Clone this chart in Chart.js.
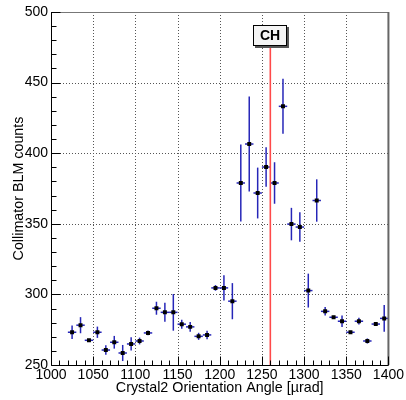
<!DOCTYPE html>
<html>
<head>
<meta charset="utf-8">
<script src="https://cdn.jsdelivr.net/npm/chart.js@4.4.0/dist/chart.umd.min.js"></script>
<style>
  html, body { margin: 0; padding: 0; background: #fff; }
  #wrap { width: 406px; height: 400px; }
</style>
</head>
<body>
<div id="wrap"><canvas id="c" width="406" height="400"></canvas></div>
<script>
// crystal2 angle scan
const angles = [1025, 1035, 1045, 1055, 1065, 1075, 1085, 1095, 1105, 1115,
                1125, 1135, 1145, 1155, 1165, 1175, 1185, 1195, 1205, 1215,
                1225, 1235, 1245, 1255, 1265, 1275, 1285, 1295, 1305, 1315,
                1325, 1335, 1345, 1355, 1365, 1375, 1385, 1395];
const counts = [273.2, 278.2, 267.5, 273.2, 260.6, 266.1, 258.5, 264.9, 267.0, 272.7,
                290.2, 287.3, 287.3, 278.9, 277.0, 270.3, 271.3, 304.6, 304.6, 295.2,
                378.9, 406.5, 371.8, 390.2, 378.9, 433.2, 349.8, 347.7, 302.7, 366.5,
                288.0, 283.8, 281.0, 273.2, 281.0, 267.0, 279.0, 283.0];
const countErr = [4.7, 5.7, 1.0, 4.0, 3.4, 4.5, 5.7, 4.7, 2.4, 1.7,
                  4.6, 6.7, 13.0, 3.2, 3.5, 2.5, 3.0, 2.0, 9.0, 12.8,
                  27.3, 33.7, 18.0, 14.0, 14.7, 19.5, 11.5, 10.5, 12.0, 15.0,
                  3.0, 1.0, 4.0, 1.0, 2.4, 1.8, 1.0, 9.5];
const angleErr = 5;

const xTickValues = [1000, 1050, 1100, 1150, 1200, 1250, 1300, 1350, 1400];
const yTickValues = [250, 300, 350, 400, 450, 500];
const chAngle = 1260;
const chText = 'CH';

const FONT = '"Liberation Sans", Arial, Helvetica, sans-serif';

function seg(ctx, x1, y1, x2, y2) {
  ctx.beginPath(); ctx.moveTo(x1, y1); ctx.lineTo(x2, y2); ctx.stroke();
}

const rootFrame = {
  id: 'rootFrame',
  beforeDatasetsDraw(chart) {
    const { ctx, chartArea: a, scales: { x, y } } = chart;
    ctx.save();
    // dotted grid
    ctx.strokeStyle = '#555'; ctx.lineWidth = 1; ctx.setLineDash([1, 2]);
    xTickValues.slice(1, -1).forEach(v => {
      const px = Math.round(x.getPixelForValue(v)) + 0.5;
      seg(ctx, px, a.top, px, a.bottom);
    });
    yTickValues.slice(1, -1).forEach(v => {
      const py = Math.round(y.getPixelForValue(v)) + 0.5;
      seg(ctx, a.left, py, a.right, py);
    });
    ctx.setLineDash([]);
    // error bars
    ctx.strokeStyle = '#2626b8'; ctx.lineWidth = 1.5;
    angles.forEach((v, i) => {
      const px = x.getPixelForValue(v), py = y.getPixelForValue(counts[i]);
      seg(ctx, x.getPixelForValue(v - angleErr), py, x.getPixelForValue(v + angleErr), py);
      seg(ctx, px, y.getPixelForValue(counts[i] - countErr[i]), px, y.getPixelForValue(counts[i] + countErr[i]));
    });
    ctx.restore();
  },
  afterDatasetsDraw(chart) {
    const { ctx, chartArea: a, scales: { x, y } } = chart;
    ctx.save();
    // channeling marker
    const lx = x.getPixelForValue(chAngle);
    const bx = Math.round(lx) - 17, by = 25, bw = 33, bh = 20;
    ctx.strokeStyle = '#ff4a4a'; ctx.lineWidth = 1.6;
    seg(ctx, lx, by + bh + 2, lx, a.bottom);
    ctx.fillStyle = '#555';
    ctx.fillRect(bx + 2, by + 2, bw + 1, bh + 1);
    ctx.fillStyle = '#f4f4f4';
    ctx.fillRect(bx, by, bw, bh);
    ctx.strokeStyle = '#000'; ctx.lineWidth = 1;
    ctx.strokeRect(bx + 0.5, by + 0.5, bw, bh);
    ctx.fillStyle = '#000';
    ctx.font = 'bold 14px ' + FONT;
    ctx.textAlign = 'center'; ctx.textBaseline = 'middle';
    ctx.fillText(chText, bx + bw / 2 + 0.5, by + bh / 2 + 1.5);

    // frame: grey top/right, black axes with inward ticks
    ctx.strokeStyle = '#777'; ctx.lineWidth = 1;
    seg(ctx, a.left, a.top + 0.5, a.right, a.top + 0.5);
    ctx.strokeStyle = '#666'; ctx.lineWidth = 2;
    seg(ctx, a.right, a.top, a.right, a.bottom);
    ctx.strokeStyle = '#000'; ctx.lineWidth = 1;
    const L = Math.round(a.left) + 0.5, B = Math.round(a.bottom) + 0.5;
    seg(ctx, L, a.top, L, B);
    seg(ctx, L, B, a.right, B);
    for (let v = xTickValues[0]; v <= xTickValues[xTickValues.length - 1]; v += 10) {
      const px = Math.round(x.getPixelForValue(v)) + 0.5;
      const len = (v % 50 === 0) ? 9 : 5;
      seg(ctx, px, B, px, B - len);
    }
    for (let v = yTickValues[0]; v <= yTickValues[yTickValues.length - 1]; v += 10) {
      const py = Math.round(y.getPixelForValue(v)) + 0.5;
      const len = (v % 50 === 0) ? 9 : 5;
      seg(ctx, L, py, L + len, py);
    }
    ctx.restore();
  }
};

new Chart(document.getElementById('c'), {
  type: 'scatter',
  data: {
    datasets: [{
      data: angles.map((v, i) => ({ x: v, y: counts[i] })),
      pointStyle: 'rect',
      pointRadius: 2.8,
      backgroundColor: '#000',
      borderWidth: 0,
      showLine: false
    }]
  },
  options: {
    responsive: false,
    animation: false,
    events: [],
    layout: { padding: { top: 12, right: 15, left: 0, bottom: 0 } },
    plugins: { legend: { display: false }, tooltip: { enabled: false } },
    scales: {
      x: {
        type: 'linear', min: 1000, max: 1400,
        grid: { display: false, drawTicks: false },
        border: { display: false },
        afterBuildTicks: s => { s.ticks = xTickValues.map(v => ({ value: v })); },
        afterFit: s => { s.height = 35; },
        ticks: { color: '#000', padding: 2, maxRotation: 0, autoSkip: false,
                 callback: v => String(v), font: { family: FONT, size: 14 } },
        title: { display: true, text: 'Crystal2 Orientation Angle [µrad]', color: '#000',
                 padding: { top: 0, bottom: 3 }, font: { family: FONT, size: 14.3 } }
      },
      y: {
        type: 'linear', min: 250, max: 500,
        grid: { display: false, drawTicks: false },
        border: { display: false },
        afterBuildTicks: s => { s.ticks = yTickValues.map(v => ({ value: v })); },
        afterFit: s => { s.width = 51; },
        ticks: { color: '#000', padding: 3, callback: v => String(v), font: { family: FONT, size: 14 } },
        title: { display: true, text: 'Collimator BLM counts', color: '#000',
                 padding: { top: 10, bottom: 0 }, font: { family: FONT, size: 14.3 } }
      }
    }
  },
  plugins: [rootFrame]
});
</script>
</body>
</html>
